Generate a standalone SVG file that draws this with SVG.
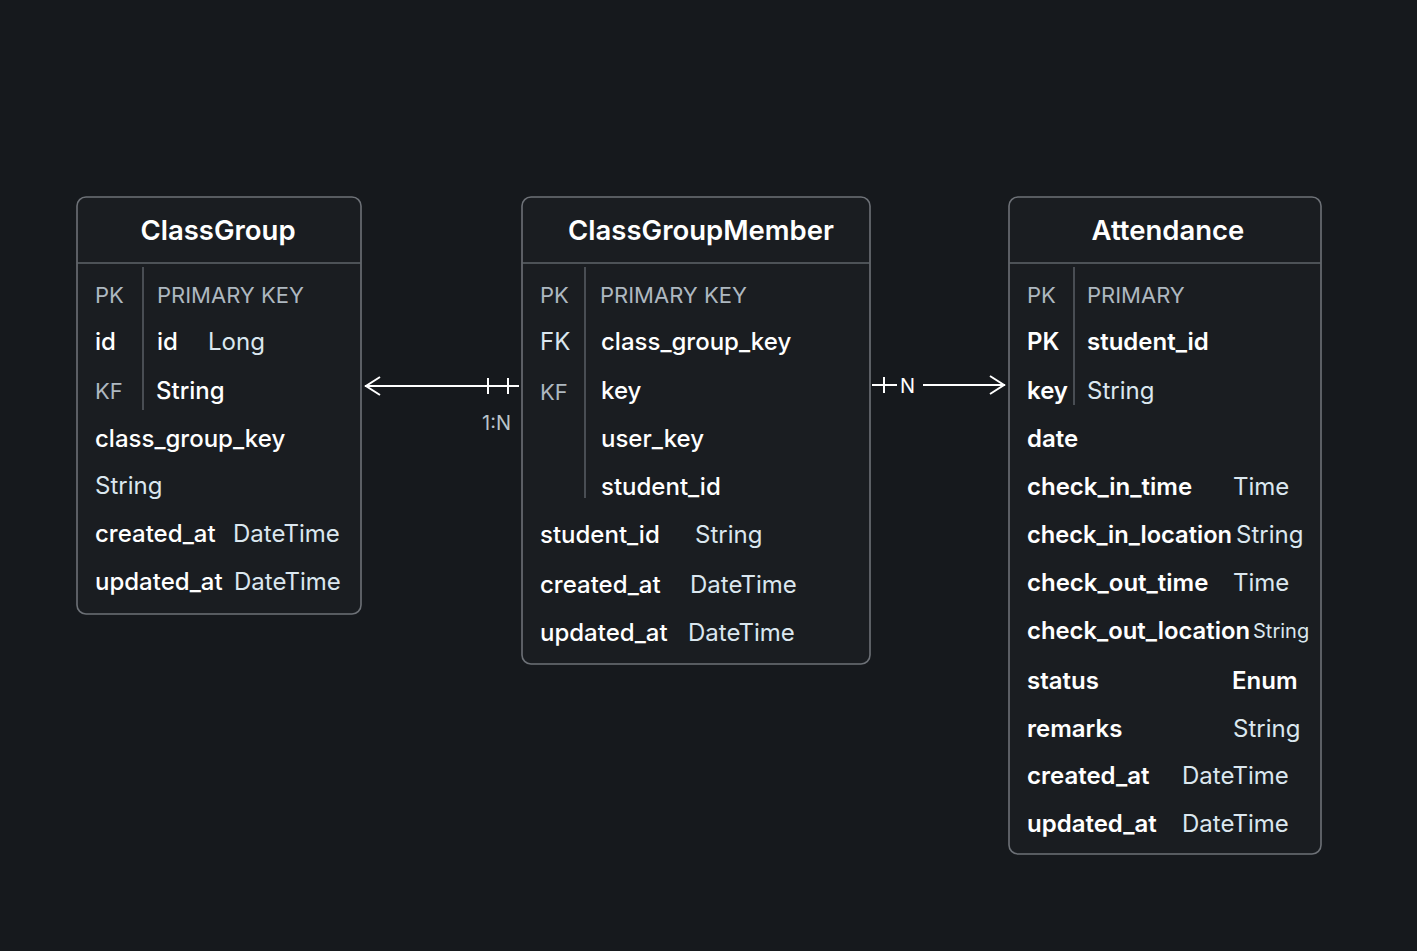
<svg xmlns="http://www.w3.org/2000/svg" width="1417" height="951" viewBox="0 0 1417 951">
<defs>
<style>
.bg{fill:#16191d}
.box{fill:#1a1d21;stroke:#6d7177;stroke-width:1.6}
.div{stroke:#5f646a;stroke-width:1.4}
.title{font-family:Inter,"Noto Sans",sans-serif;font-size:27.5px;font-weight:600;fill:#ffffff;text-anchor:middle}
.n{font-family:Inter,"Noto Sans",sans-serif;font-size:24px;font-weight:500;fill:#ffffff}
.nb{font-family:Inter,"Noto Sans",sans-serif;font-size:24px;font-weight:600;fill:#ffffff}
.t{font-family:Inter,"Noto Sans",sans-serif;font-size:24px;font-weight:400;fill:#dbe7ef}
.g{font-family:Inter,"Noto Sans",sans-serif;font-size:22px;font-weight:400;fill:#aeb8c0}
.line{stroke:#ffffff;stroke-width:2;fill:none}
.lbl{font-family:Inter,"Noto Sans",sans-serif;font-size:20px;font-weight:400;fill:#b9c3ca}
</style>
</defs>
<rect class="bg" x="0" y="0" width="1417" height="951"/>

<g id="ClassGroup">
<rect class="box" x="77" y="197" width="284" height="417" rx="9"/>
<line class="div" x1="77" y1="263" x2="361" y2="263"/>
<line class="div" x1="143" y1="267" x2="143" y2="410"/>
<text class="title" x="218" y="240">ClassGroup</text>
<text class="g" x="95" y="303">PK</text>
<text class="g" x="157" y="303">PRIMARY KEY</text>
<text class="n" x="95" y="350">id</text>
<text class="n" x="157" y="350">id</text>
<text class="t" x="208" y="350">Long</text>
<text class="g" x="95" y="399">KF</text>
<text class="n" x="156" y="399">String</text>
<text class="n" x="95" y="447">class_group_key</text>
<text class="t" x="95" y="494">String</text>
<text class="n" x="95" y="542">created_at</text>
<text class="t" x="233" y="542">DateTime</text>
<text class="n" x="95" y="590">updated_at</text>
<text class="t" x="234" y="590">DateTime</text>
</g>

<g id="ClassGroupMember">
<rect class="box" x="522" y="197" width="348" height="467" rx="9"/>
<line class="div" x1="522" y1="263" x2="870" y2="263"/>
<line class="div" x1="585" y1="267" x2="585" y2="498"/>
<text class="title" x="701" y="240">ClassGroupMember</text>
<text class="g" x="540" y="303">PK</text>
<text class="g" x="600" y="303">PRIMARY KEY</text>
<text class="t" x="540" y="350">FK</text>
<text class="n" x="601" y="350">class_group_key</text>
<text class="g" x="540" y="400">KF</text>
<text class="n" x="601" y="399">key</text>
<text class="n" x="601" y="447">user_key</text>
<text class="n" x="601" y="495">student_id</text>
<text class="n" x="540" y="543">student_id</text>
<text class="t" x="695" y="543">String</text>
<text class="n" x="540" y="593">created_at</text>
<text class="t" x="690" y="593">DateTime</text>
<text class="n" x="540" y="641">updated_at</text>
<text class="t" x="688" y="641">DateTime</text>
</g>

<g id="Attendance">
<rect class="box" x="1009" y="197" width="312" height="657" rx="9"/>
<line class="div" x1="1009" y1="263" x2="1321" y2="263"/>
<line class="div" x1="1074" y1="267" x2="1074" y2="405"/>
<text class="title" x="1168" y="240">Attendance</text>
<text class="g" x="1027" y="303">PK</text>
<text class="g" x="1087" y="303">PRIMARY</text>
<text class="nb" x="1027" y="350">PK</text>
<text class="nb" x="1087" y="350">student_id</text>
<text class="nb" x="1027" y="399">key</text>
<text class="t" x="1087" y="399">String</text>
<text class="nb" x="1027" y="447">date</text>
<text class="nb" x="1027" y="495">check_in_time</text>
<text class="t" x="1233" y="495">Time</text>
<text class="nb" x="1027" y="543" textLength="205" lengthAdjust="spacingAndGlyphs">check_in_location</text>
<text class="t" x="1236" y="543">String</text>
<text class="nb" x="1027" y="639" textLength="223" lengthAdjust="spacingAndGlyphs">check_out_location</text>
<text class="nb" x="1027" y="591">check_out_time</text>
<text class="t" x="1233" y="591">Time</text>
<text class="t" x="1253" y="638" style="font-size:20px">String</text>
<text class="nb" x="1027" y="689">status</text>
<text class="nb" x="1232" y="689">Enum</text>
<text class="nb" x="1027" y="737">remarks</text>
<text class="t" x="1233" y="737">String</text>
<text class="nb" x="1027" y="784">created_at</text>
<text class="t" x="1182" y="784">DateTime</text>
<text class="nb" x="1027" y="832">updated_at</text>
<text class="t" x="1182" y="832">DateTime</text>
</g>

<g id="connectors">
<line class="line" x1="365" y1="386" x2="519" y2="386"/>
<polyline class="line" points="380,377 366,386 380,395"/>
<line class="line" x1="488" y1="378" x2="488" y2="394"/>
<line class="line" x1="508" y1="378" x2="508" y2="394"/>
<text class="lbl" x="482" y="430">1:N</text>
<line class="line" x1="872" y1="385" x2="897" y2="385"/>
<line class="line" x1="884" y1="377" x2="884" y2="393"/>
<text class="lbl" x="900" y="393" style="fill:#ffffff">N</text>
<line class="line" x1="923" y1="385" x2="1005" y2="385"/>
<polyline class="line" points="990,376 1004,385 990,394"/>
</g>
</svg>
